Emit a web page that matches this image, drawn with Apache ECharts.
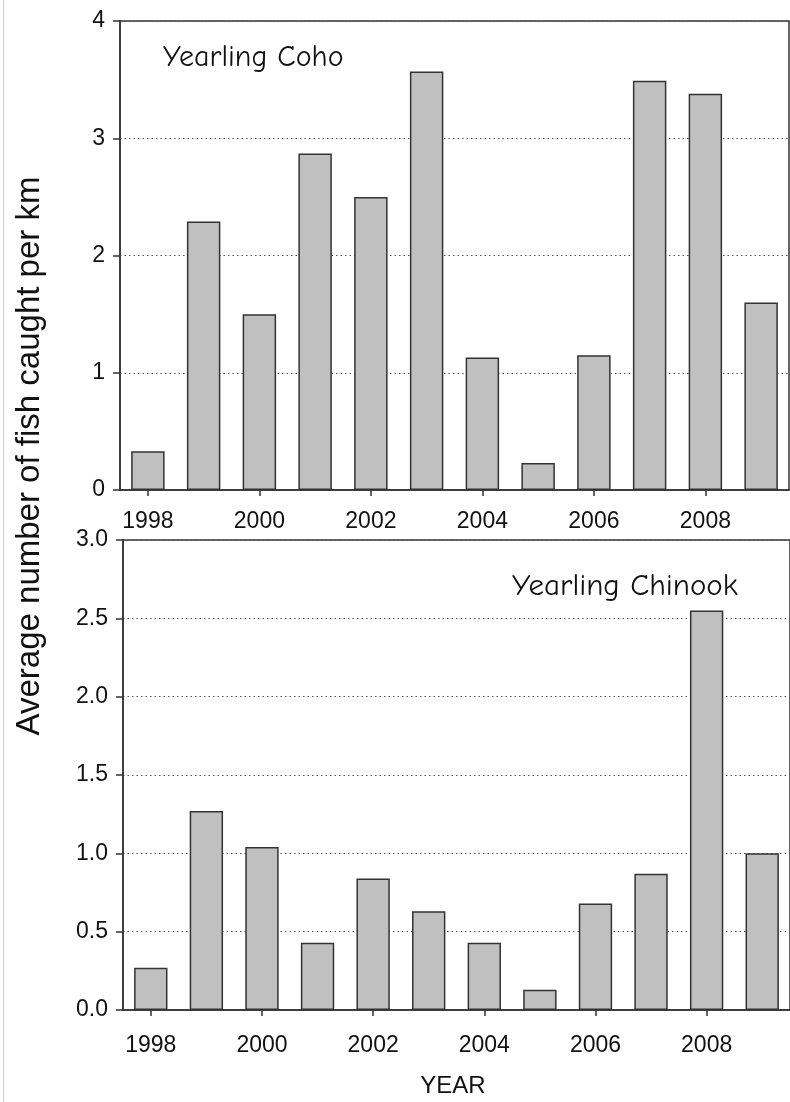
<!DOCTYPE html>
<html>
<head>
<meta charset="utf-8">
<script src="https://cdn.jsdelivr.net/npm/echarts@6/dist/echarts.min.js"></script>
<style>
html,body{margin:0;padding:0;background:#fff;}
#c{width:790px;height:1102px;}
</style>
</head>
<body>
<div id="c"></div>
<script>
const years = ['1998','1999','2000','2001','2002','2003','2004','2005','2006','2007','2008','2009'];
const cohoValues = [0.33, 2.29, 1.50, 2.87, 2.50, 3.57, 1.13, 0.23, 1.15, 3.49, 3.38, 1.60];
const chinookValues = [0.27, 1.27, 1.04, 0.43, 0.84, 0.63, 0.43, 0.13, 0.68, 0.87, 2.55, 1.00];
const cohoTicks = [0, 1, 2, 3, 4];
const chinookTicks = ['0.0','0.5','1.0','1.5','2.0','2.5','3.0'];
const cohoLabel = 'Yearling Coho';
const chinookLabel = 'Yearling Chinook';
const yTitle = 'Average number of fish caught per km';
const xTitle = 'YEAR';

const chart = echarts.init(document.getElementById('c'), null, {renderer:'canvas'});
const axisFont = 'Liberation Sans, Arial, sans-serif';
const lineCol = '#333';
function xAx(gi, margin){
  return {
    type:'category', gridIndex:gi, data:years,
    axisLine:{show:true,lineStyle:{color:lineCol,width:1.5}},
    axisTick:{show:true,interval:1,alignWithLabel:true,length:6,lineStyle:{color:lineCol,width:1.5}},
    axisLabel:{interval:1,fontSize:23,color:'#111',fontFamily:axisFont,margin:margin},
    splitLine:{show:false}
  };
}
function yAx(gi, max, interval, fmt){
  return {
    type:'value', gridIndex:gi, min:0, max:max, interval:interval,
    axisLine:{show:true,lineStyle:{color:lineCol,width:1.5}},
    axisTick:{show:true,length:7,lineStyle:{color:lineCol,width:1.5}},
    axisLabel:{fontSize:23,color:'#111',fontFamily:axisFont,margin:15,formatter:fmt},
    splitLine:{show:true,lineStyle:{color:'#555',type:[1.5,3],width:1}}
  };
}
const barStyle = {color:'#c0c0c0',borderColor:'#333',borderWidth:1.5};
const comic = '"Comic Sans MS","Comic Neue","DejaVu Sans",sans-serif';
chart.setOption({
  animation:false,
  backgroundColor:'#fff',
  grid:[
    {left:120,top:21,right:1,height:469,show:true,borderColor:lineCol,borderWidth:1.5,backgroundColor:'transparent'},
    {left:123,top:540,right:-6,height:470,show:true,borderColor:lineCol,borderWidth:1.5,backgroundColor:'transparent'}
  ],
  xAxis:[xAx(0,20), xAx(1,24)],
  yAxis:[
    yAx(0,4,1,function(v){return String(cohoTicks[Math.round(v)]);}),
    yAx(1,3,0.5,function(v){return chinookTicks[Math.round(v*2)];})
  ],
  series:[
    {type:'bar',xAxisIndex:0,yAxisIndex:0,data:cohoValues,barWidth:'60%',itemStyle:barStyle},
    {type:'bar',xAxisIndex:1,yAxisIndex:1,data:chinookValues,barWidth:'60%',itemStyle:barStyle}
  ],
  graphic:[
    {type:'rect',left:3,top:0,shape:{width:1,height:1102},style:{fill:'#ccc'},silent:true},
    {type:'text',x:163,y:58,style:{text:cohoLabel,font:'30px '+comic,fill:'#111',align:'left',verticalAlign:'middle'}},
    {type:'text',x:512,y:586,style:{text:chinookLabel,font:'31px '+comic,fill:'#111',align:'left',verticalAlign:'middle'}},
    {type:'text',x:30,y:456,rotation:Math.PI/2,style:{text:yTitle,font:'33px "Liberation Sans",Arial,sans-serif',fill:'#111',align:'center',verticalAlign:'middle'}},
    {type:'text',x:453,y:1086,style:{text:xTitle,font:'24px "Liberation Sans",Arial,sans-serif',fill:'#111',align:'center',verticalAlign:'middle'}}
  ]
});
</script>
</body>
</html>
